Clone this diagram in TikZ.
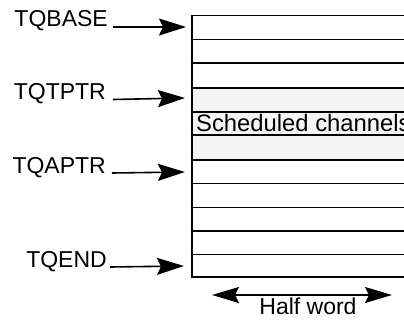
\documentclass[tikz,border=0pt]{standalone}
\usepackage{fontspec}
\setmainfont{Liberation Sans}
\usetikzlibrary{arrows.meta}
\definecolor{rowgray}{HTML}{F4F4F4}
\tikzset{
  lbl/.style={font=\fontsize{23}{26}\selectfont, inner sep=0pt},
  ptr/.style={line width=1.6pt, -{Stealth[length=27pt,width=17pt,inset=4pt]}},
  rowline/.style={line width=1.5pt},
}
\begin{document}
\begin{tikzpicture}[x=1pt,y=-1pt]
\useasboundingbox (0,0) rectangle (404,321);
\begin{scope}
\clip (0,0) rectangle (404,321);
% shaded rows
\fill[rowgray] (192,88) rectangle (420,160);
% horizontal row lines
\foreach \yy in {15.5,39.3,63.1,88,112,135,160,183.5,207.3,231,254.5,277}
  \draw[rowline] (190.5,\yy) -- (420,\yy);
\draw[rowline] (192,15.5) -- (192,277.7);
\node[lbl, font=\fontsize{23.8}{26}\selectfont, anchor=base west] (sched) at (196,131) {Scheduled channels};
\end{scope}
% labels
\node[lbl, anchor=base east] (tqbase) at (108,27) {TQBASE};
\node[lbl, anchor=base east] (tqtptr) at (106,99.5) {TQTPTR};
\node[lbl, anchor=base east] (tqaptr) at (106,173) {TQAPTR};
\node[lbl, anchor=base east] (tqend) at (107,267) {TQEND};
% targets
\coordinate (t1) at (186,27);
\coordinate (t2) at (185,98);
\coordinate (t3) at (185,172);
\coordinate (t4) at (184,266);
\draw[ptr] ([xshift=5pt]tqbase.base east) -- (t1);
\draw[ptr] ([xshift=7pt]tqtptr.base east) -- (t2);
\draw[ptr] ([xshift=6pt]tqaptr.base east) -- (t3);
\draw[ptr] ([xshift=3pt]tqend.base east) -- (t4);
% half word
\coordinate (hw1) at (212,295);
\coordinate (hw2) at (392,295);
\draw[line width=1.6pt, {Stealth[length=27pt,width=16pt,inset=4pt]}-{Stealth[length=27pt,width=16pt,inset=4pt]}] (hw1) -- (hw2);
\node[lbl, anchor=base] (half) at (308,314) {Half word};
\end{tikzpicture}
\end{document}
